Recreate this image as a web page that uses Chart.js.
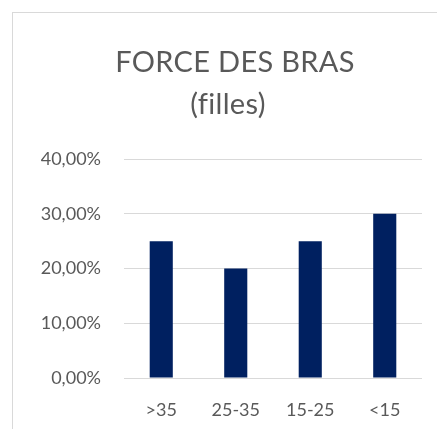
<!DOCTYPE html>
<html>
<head>
<meta charset="utf-8">
<script src="https://cdn.jsdelivr.net/npm/chart.js@4"></script>
<style>
  html, body { margin: 0; padding: 0; background: #fff; overflow: hidden; }
  #box {
    position: absolute; left: 12px; top: 12px;
    width: 438px; height: 418px;
    border-left: 1px solid #d9d9d9; border-top: 1px solid #d9d9d9;
  }
</style>
</head>
<body>
<div id="box"><canvas id="chart" width="438" height="418"></canvas></div>
<script>
// Chart data
const categories = ['>35', '25-35', '15-25', '<15'];
const values = [0.25, 0.20, 0.25, 0.30];
const titleLines = ['FORCE DES BRAS', '(filles)'];

const textColor = '#595959';
const fontFamily = 'Lato, "Open Sans", sans-serif';

function pct(v) {
  return (v * 100).toFixed(2).replace('.', ',') + '%';
}

// Draw the two-line title centered on the whole canvas
const titlePlugin = {
  id: 'bigTitle',
  afterDraw(chart) {
    const ctx = chart.ctx;
    ctx.save();
    ctx.fillStyle = textColor;
    ctx.font = '29px ' + fontFamily;
    ctx.letterSpacing = '0.3px';
    ctx.textAlign = 'center';
    ctx.textBaseline = 'middle';
    ctx.fillText(titleLines[0], chart.width / 2 + 3, 50);
    ctx.fillText(titleLines[1], chart.width / 2 - 4, 92);
    ctx.restore();
  }
};

new Chart(document.getElementById('chart'), {
  type: 'bar',
  data: {
    labels: categories,
    datasets: [{
      data: values,
      backgroundColor: '#002060',
      barPercentage: 0.31,
      categoryPercentage: 1
    }]
  },
  options: {
    responsive: false,
    animation: false,
    layout: { padding: { top: 146, right: 29, left: 0, bottom: 0 } },
    plugins: {
      legend: { display: false },
      title: { display: false },
      tooltip: { enabled: false }
    },
    scales: {
      x: {
        grid: { display: false, drawTicks: false },
        border: { display: false },
        ticks: { color: textColor, font: { family: fontFamily, size: 18 }, padding: 21 },
        afterFit: (s) => { s.height = 53; }
      },
      y: {
        min: 0,
        max: 0.4,
        ticks: {
          stepSize: 0.1,
          color: textColor,
          font: { family: fontFamily, size: 18 },
          padding: 23,
          callback: (v) => pct(v)
        },
        grid: { color: '#d9d9d9', lineWidth: 1, drawTicks: false },
        border: { display: false },
        afterFit: (s) => { s.width = 111; }
      }
    }
  },
  plugins: [titlePlugin]
});
</script>
</body>
</html>
